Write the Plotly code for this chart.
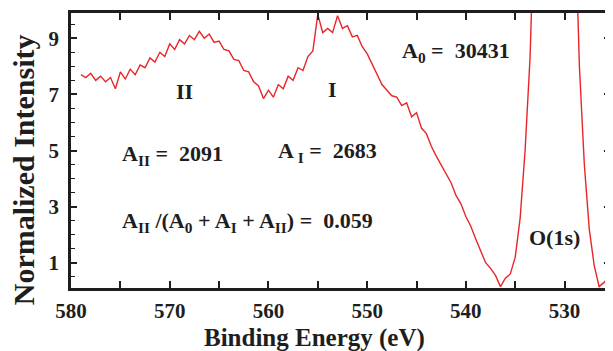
import plotly.graph_objects as go

energy = [579.0 - 0.5 * i for i in range(109)]
intensity = [
    7.7, 7.6, 7.75, 7.5, 7.65, 7.45, 7.6, 7.2, 7.8, 7.55,
    7.9, 7.7, 8.05, 7.95, 8.3, 8.15, 8.5, 8.35, 8.8, 8.6,
    8.95, 8.8, 9.1, 8.95, 9.25, 9.0, 9.15, 8.85, 8.9, 8.6,
    8.55, 8.25, 8.2, 7.85, 7.8, 7.45, 7.3, 6.85, 7.15, 6.9,
    7.35, 7.2, 7.65, 7.5, 7.95, 7.85, 8.35, 8.55, 9.85, 9.2,
    9.35, 9.2, 9.8, 9.35, 9.45, 9.05, 9.1, 8.7, 8.45, 8.1,
    7.75, 7.35, 7.15, 6.95, 6.9, 6.6, 6.7, 6.2, 6.35, 5.8,
    5.6, 5.15, 4.8, 4.5, 4.15, 3.85, 3.4, 3.1, 2.65, 2.3,
    1.85, 1.45, 1.0, 0.8, 0.55, 0.15, 0.45, 0.6, 1.2, 2.6,
    5.0, 8.3, 12, 20, 35, 50, 55, 50, 38, 25,
    14, 8, 4.5, 2.2, 0.9, 0.15, 0.3, 0.5, 0.6,
]

x_ticks = [580, 570, 560, 550, 540, 530]
y_ticks = [1, 3, 5, 7, 9]

FONT = "Liberation Serif"
INK = "#1e1e1e"
fig = go.Figure()
fig.add_trace(go.Scatter(x=energy, y=intensity, mode="lines",
                         line=dict(color="#e8262a", width=1.4), showlegend=False))

def ann(text, x, y, size=22, xanchor="left", xref="x", yref="y", angle=0, pad=1):
    fig.add_annotation(x=x, y=y, xref=xref, yref=yref, text=text, showarrow=False,
                       xanchor=xanchor, yanchor="middle", textangle=angle, borderpad=pad,
                       font=dict(family=FONT, size=size, color=INK, weight="bold"))

ann("II", 568.5, 7.09, xanchor="center")
ann("I", 553.5, 7.16, xanchor="center")
ann("A<sub>0</sub> =  30431", 546.7, 8.5)
ann("A<sub>II</sub> =  2091", 575.07, 4.85)
ann("A<sub> I</sub> =  2683", 559.2, 4.95)
ann("A<sub>II</sub> /(A<sub>0</sub> + A<sub>I</sub> + A<sub>II</sub>) =  0.059", 575.07, 2.45)
ann("O(1s)", 531.0, 1.89, xanchor="center")
ann("Binding Energy (eV)", 0.452, -0.182, size=25, xanchor="center", xref="paper", yref="paper", pad=0)
ann("Normalized Intensity", -0.0886, 0.429, size=30, xanchor="center", xref="paper", yref="paper", angle=-90)

# the page body has an 8px default margin, so the figure is sized to fit the window
fig.update_layout(
    width=605, height=343,
    margin=dict(l=63, r=0, t=5, b=63),
    paper_bgcolor="white", plot_bgcolor="white",
    xaxis=dict(range=[580, 525.4], tickvals=x_ticks, ticks="inside", ticklen=7,
               tickwidth=1.5, tickcolor=INK, showline=True, linecolor=INK,
               linewidth=2.5, mirror="ticks", showgrid=False, zeroline=False,
               ticklabelstandoff=2,
               minor=dict(dtick=5, ticks="inside", ticklen=7, tickwidth=1.5, tickcolor=INK),
               tickfont=dict(family=FONT, size=21, color=INK, weight="bold")),
    yaxis=dict(range=[0.1, 9.9], tickvals=y_ticks, ticks="inside", ticklen=6,
               tickwidth=1.5, tickcolor=INK, showline=True, linecolor=INK,
               linewidth=2.5, mirror="ticks", showgrid=False, zeroline=False,
               ticklabelstandoff=5,
               minor=dict(dtick=0.5, ticks="inside", ticklen=4, tickwidth=1.2, tickcolor=INK),
               tickfont=dict(family=FONT, size=21, color=INK, weight="bold")),
)
fig.write_html("out.html")
